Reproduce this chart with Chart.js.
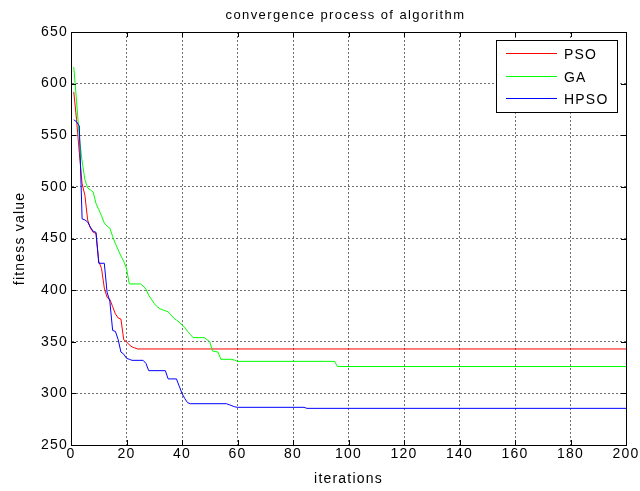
<!DOCTYPE html>
<html>
<head>
<meta charset="utf-8">
<script src="https://cdn.jsdelivr.net/npm/chart.js@4/dist/chart.umd.min.js"></script>
<style>
  html, body { margin: 0; padding: 0; background: #fff; }
  #wrap { width: 640px; height: 491px; }
</style>
</head>
<body>
<div id="wrap"><canvas id="grafico" width="640" height="491"></canvas></div>
<script>
// values (iteration -> fitness)
const psoIter = [1,2,3,4,5,6,7,8,9,10,11,12,13,14,15,16,17,18,19,20,21,22,23,24,200];
const psoFit  = [592,565,533,503,492,468,460,456,455,428,421,402,393,391,384,377,373,372,352,350,347,345,344,343,343];

const gaIter = [1,2,3,4,5,6,7,8,9,10,11,12,13,14,15,16,17,18,19,20,21,25,26,27,28,29,30,31,32,33,34,35,36,37,38,39,40,41,42,43,44,48,49,50,51,53,54,58,59,60,95,96,200];
const gaFit  = [616,583,548,525,507,499,497,495,484,478,472,465,462,460,452,445,439,433,428,421,406,406,404,401,395,391,387,384,382,381,380,379,376,373,371,369,366,364,360,357,354,354,352,350,341,340,333,333,332,331,331,326,326];

const hpsoIter = [1,2,3,4,5,6,7,8,9,10,12,13,14,15,16,17,18,19,20,21,22,26,27,28,34,35,38,39,40,41,42,43,56,57,58,59,60,84,85,200];
const hpsoFit  = [565,563,559,469,468,466,461,457,456,426,426,398,389,361,360,352,340,338,334,333,332,332,329,322,322,314,314,307,300,295,291,290,290,289,288,287,286.5,286.5,285.5,285.5];

const xTicks = [0,20,40,60,80,100,120,140,160,180,200];
const yTicks = [250,300,350,400,450,500,550,600,650];

const titulo = "convergence process of algorithm";
const FONT = "'Liberation Sans', Arial, sans-serif";

function pts(xs, ys) {
  return xs.map((x, i) => ({ x: x, y: ys[i] }));
}

const series = [
  { label: "PSO",  color: "#ff0000", data: pts(psoIter, psoFit),  order: 2 },
  { label: "GA",   color: "#00ff00", data: pts(gaIter, gaFit),    order: 1 },
  { label: "HPSO", color: "#0000ff", data: pts(hpsoIter, hpsoFit), order: 0 }
];

// the reference text is a bit stretched, so space the letters
const espaco = {
  id: "espaco",
  beforeDraw(c) {
    c.ctx.letterSpacing = "1.2px";
  }
};

// axes box, inward ticks, title and legend (matlab look)
const caixa = {
  id: "caixa",
  afterDatasetsDraw(c) {
    const ctx = c.ctx, a = c.chartArea;
    const sx = c.scales.x, sy = c.scales.y;
    ctx.save();
    ctx.strokeStyle = "#000";
    ctx.lineWidth = 1;
    ctx.setLineDash([]);
    ctx.strokeRect(Math.round(a.left) + 0.5, Math.round(a.top) + 0.5,
                   Math.round(a.right - a.left), Math.round(a.bottom - a.top));
    ctx.beginPath();
    xTicks.forEach(v => {
      const px = Math.round(sx.getPixelForValue(v)) + 0.5;
      ctx.moveTo(px, a.bottom); ctx.lineTo(px, a.bottom - 5);
      ctx.moveTo(px, a.top); ctx.lineTo(px, a.top + 5);
    });
    yTicks.forEach(v => {
      const py = Math.round(sy.getPixelForValue(v)) + 0.5;
      ctx.moveTo(a.left, py); ctx.lineTo(a.left + 5, py);
      ctx.moveTo(a.right, py); ctx.lineTo(a.right - 5, py);
    });
    ctx.stroke();

    // title
    ctx.fillStyle = "#000";
    ctx.font = "13px " + FONT;
    ctx.letterSpacing = "1.4px";
    ctx.textAlign = "center";
    ctx.textBaseline = "middle";
    ctx.fillText(titulo, (a.left + a.right) / 2 - 3, 15);
    ctx.letterSpacing = "1.2px";

    // legend
    const bx = Math.round(a.right) - 130, by = Math.round(a.top) + 8, bw = 121, bh = 72;
    ctx.fillStyle = "#fff";
    ctx.fillRect(bx, by, bw, bh);
    ctx.strokeStyle = "#000";
    ctx.strokeRect(bx + 0.5, by + 0.5, bw, bh);
    ctx.font = "14px " + FONT;
    ctx.textAlign = "left";
    series.forEach((s, i) => {
      const y = Math.round(by + 13 + i * 22.5);
      ctx.fillStyle = s.color;
      ctx.fillRect(bx + 10, y, 51, 1);
      ctx.fillStyle = "#000";
      ctx.fillText(s.label, bx + 68, y + 2);
    });
    ctx.restore();
  }
};

new Chart(document.getElementById("grafico"), {
  type: "line",
  data: {
    datasets: series.map(s => ({
      label: s.label,
      data: s.data,
      borderColor: s.color,
      backgroundColor: s.color,
      borderWidth: 1,
      pointRadius: 0,
      tension: 0,
      fill: false,
      order: s.order
    }))
  },
  options: {
    responsive: false,
    animation: false,
    layout: { padding: { left: 0, right: 14, top: 32, bottom: 0 } },
    plugins: {
      legend: { display: false },
      tooltip: { enabled: false },
      title: { display: false }
    },
    scales: {
      x: {
        type: "linear",
        min: 0, max: 200,
        afterFit: s => { s.height = 46; },
        afterBuildTicks: s => { s.ticks = xTicks.map(v => ({ value: v })); },
        ticks: { color: "#000", font: { family: FONT, size: 14 }, padding: 1, maxRotation: 0 },
        grid: { color: "#6e6e6e", drawTicks: false },
        border: { color: "#000", dash: [2, 2] },
        title: {
          display: true, text: "iterations", color: "#000",
          font: { family: FONT, size: 14 }, padding: { top: 0, bottom: 3 }
        }
      },
      y: {
        type: "linear",
        min: 250, max: 650,
        afterFit: s => { s.width = 71; },
        afterBuildTicks: s => { s.ticks = yTicks.map(v => ({ value: v })); },
        ticks: { color: "#000", font: { family: FONT, size: 14 }, padding: 3 },
        grid: { color: "#6e6e6e", drawTicks: false },
        border: { color: "#000", dash: [2, 2] },
        title: {
          display: true, text: "fitness value", color: "#000",
          font: { family: FONT, size: 14 }, padding: { top: 12, bottom: 0 }
        }
      }
    }
  },
  plugins: [espaco, caixa]
});
</script>
</body>
</html>
